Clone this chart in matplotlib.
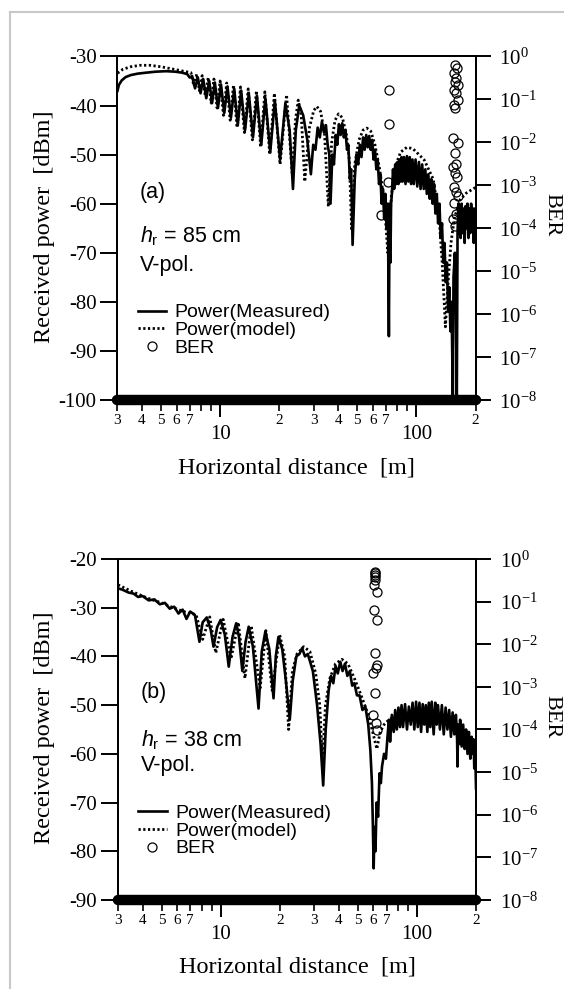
import matplotlib
matplotlib.use("Agg")
import matplotlib.pyplot as plt
from matplotlib.lines import Line2D
from matplotlib.ticker import FixedLocator, FixedFormatter, NullLocator

plt.rcParams['font.family'] = 'Liberation Serif'
plt.rcParams['mathtext.fontset'] = 'custom'
plt.rcParams['mathtext.rm'] = 'Liberation Serif'
plt.rcParams['mathtext.it'] = 'Liberation Sans:italic'
plt.rcParams['mathtext.sf'] = 'Liberation Sans'
plt.rcParams['axes.unicode_minus'] = False

# ---- panel (a): h_r = 85 cm ----
meas_a_dist = [3.0, 3.05, 3.15, 3.3, 3.5, 3.8, 4.2, 4.7, 5.3, 5.9, 6.4, 6.8,
               7.0, 7.2, 7.45, 7.7, 7.95, 8.2, 8.5, 8.8, 9.1, 9.4, 9.75, 10.1,
               10.5, 10.9, 11.35, 11.8, 12.3, 12.8, 13.4, 14.0, 14.7, 15.4, 16.2, 17.0,
               18.0, 19.0, 20.2, 21.5, 22.6, 23.5, 24.3, 25.3, 26.5, 27.8,
               29.0, 29.8, 30.6, 31.4, 32.2, 33.0, 33.8, 34.6, 35.3, 36.0, 36.5,
               37.3, 38.0, 38.8, 39.5, 40.3, 41.1, 41.9, 42.7, 43.5, 44.3, 45.0, 45.8, 46.5, 47.3,
               48.5, 49.5, 50.5, 51.5, 52.5, 53.5, 54.5, 55.5, 56.5, 57.5, 58.5, 59.5,
               60.5, 61.5, 62.5, 63.5, 64.5, 65.5, 66.5, 67.5, 68.5, 69.5, 70.5, 71.5,
               72.4, 73.0, 73.7, 74.3, 75, 76, 77, 78, 79, 80, 81, 82,
               83, 84, 85, 86.5, 88, 89.5, 91, 92.5, 94, 95.5, 97, 99,
               101, 103, 105, 107, 109, 111, 113, 115, 117, 119, 121, 123,
               125, 127, 129, 131, 133, 135, 137, 139, 141, 143, 145, 147,
               149, 151, 153.3, 154.5, 157, 159, 160.6, 162, 163.5, 165, 166.5, 168,
               170, 172, 174, 176, 178, 180, 182, 184, 186, 188, 190, 192,
               194, 196, 198, 200]
meas_a_pow = [-37.0, -35.8, -34.9, -34.2, -33.8, -33.5, -33.3, -33.1, -33.0, -33.1, -33.3, -33.6,
              -34.3, -34.0, -36.5, -34.3, -37.5, -34.6, -38.5, -35.0, -39.5, -35.3, -40.5, -35.7,
              -41.5, -36.1, -42.5, -36.6, -44.0, -37.0, -45.0, -37.5, -46.5, -38.0, -48.0, -38.5,
              -49.5, -39.0, -51.0, -39.5, -45.0, -57.0, -45.0, -40.0, -42.0, -47.0,
              -54.0, -48.0, -49.0, -44.5, -46.5, -43.3, -45.5, -44.0, -48.0, -50.0, -60.0,
              -50.0, -52.0, -46.0, -48.0, -43.8, -46.0, -43.6, -46.5, -45.0, -49.0, -48.0, -55.0, -53.0, -68.4,
              -55.0, -50.0, -52.0, -48.0, -50.5, -46.5, -49.0, -46.0, -48.5, -46.2, -49.0, -47.0,
              -51.0, -49.0, -53.0, -51.0, -56.0, -54.0, -60.0, -57.0, -63.0, -58.0, -65.0, -60.0,
              -87.0, -60.0, -72.0, -60.0, -58.0, -53.0, -57.0, -52.0, -56.0, -51.5, -56.0, -51.0,
              -55.5, -50.5, -55.5, -50.5, -56.0, -50.3, -55.5, -50.5, -56.0, -51.0, -56.0, -51.0,
              -56.5, -51.5, -57.0, -52.0, -57.0, -53.0, -58.0, -54.0, -59.0, -55.0, -60.0, -56.0,
              -62.0, -58.0, -64.0, -60.0, -67.0, -64.0, -72.0, -68.0, -76.0, -72.0, -82.0, -77.0,
              -86.0, -80.0, -100.0, -75.0, -70.0, -82.0, -100.0, -66.0, -60.0, -66.0, -61.0, -67.0,
              -60.0, -66.0, -61.0, -68.0, -60.5, -65.0, -60.0, -67.0, -61.0, -66.0, -60.0, -65.5,
              -61.0, -68.0, -61.0, -64.0]

model_a_dist = [3.0, 3.2, 3.5, 3.9, 4.4, 5.0, 5.8, 6.5, 7.1, 7.35, 7.6, 7.85,
                8.1, 8.4, 8.7, 9.0, 9.3, 9.65, 10.0, 10.4, 10.8, 11.25, 11.7, 12.2,
                12.7, 13.3, 13.9, 14.6, 15.3, 16.1, 16.9, 17.9, 18.9, 20.2, 21.8, 23.3,
                24.2, 25.0, 25.9, 27.0, 28.5, 30.0, 31.1, 32.5, 34.0, 35.6, 37.0, 38.5,
                40.1, 42.0, 44.0, 45.5, 46.8, 48.5, 51.0, 53.5, 55.9, 58.5, 61.5, 65.0,
                68.5, 71.5, 74.5, 78.0, 83.0, 89.5, 96, 103, 109.6, 121.8, 130.6, 135.3,
                140.5, 145, 150, 156, 166.8, 180, 196, 200]
model_a_pow = [-33.4, -32.6, -32.1, -31.8, -31.8, -32.1, -32.6, -33.0, -33.3, -36.0, -33.6, -37.0,
               -33.9, -38.0, -34.3, -39.5, -34.6, -40.5, -35.0, -42.0, -35.4, -43.0, -35.8, -44.5,
               -36.2, -45.5, -36.6, -47.0, -37.0, -48.5, -37.2, -50.0, -37.5, -52.0, -37.8, -54.0,
               -43.0, -38.9, -42.0, -55.5, -44.5, -41.0, -40.2, -41.2, -45.5, -60.6, -47.5, -43.0,
               -41.7, -42.5, -46.0, -51.0, -65.5, -52.0, -47.0, -45.0, -44.6, -45.2, -48.0, -53.0,
               -59.5, -70.0, -58.5, -52.5, -49.5, -48.5, -48.8, -50.0, -51.1, -55.0, -63.0, -72.0,
               -85.1, -76.0, -68.0, -63.0, -59.2, -57.8, -56.9, -56.7]

ber_a_dist = [72.4, 72.4, 71.5, 66.0,
              158, 161, 155, 160, 157, 162, 156, 159, 163, 155, 158, 154, 162,
              157, 160, 153, 158, 161, 155, 159, 162, 156, 160, 154, 157]
ber_a_val = [0.17, 0.027, 1.2e-3, 2.0e-4,
             0.63, 0.53, 0.41, 0.31, 0.26, 0.22, 0.166, 0.139, 0.097, 0.074, 0.062, 0.0125, 9.5e-3,
             5.6e-3, 3.2e-3, 2.7e-3, 1.9e-3, 1.6e-3, 9.3e-4, 7.1e-4, 5.5e-4, 3.8e-4, 2.2e-4, 1.6e-4, 1.1e-4]

# ---- panel (b): h_r = 38 cm ----
meas_b_dist = [3.0, 3.2, 3.4, 3.6, 3.8, 4.0, 4.3, 4.6, 4.9, 5.2, 5.5, 5.8,
               6.1, 6.4, 6.7, 7.0, 7.4, 7.8, 8.1, 8.5, 8.9, 9.2, 9.6, 10.0,
               10.5, 11.0, 11.5, 12.0, 12.4, 12.9, 13.4, 13.9, 14.6, 15.6, 16.2, 16.9,
               17.7, 18.6, 19.1, 19.7, 20.6, 21.5, 22.5, 23.3, 24.3, 25.2, 26.0, 26.9,
               27.8, 29.5, 31.0, 32.3, 33.3, 34.3, 35.5, 36.5, 37.5, 38.5, 39.5, 40.7,
               41.8, 43.0, 44.2, 45.5, 46.8, 48.0, 49.5, 51.0, 52.8, 54.6,
               56.5, 57.9, 59.0, 59.6, 60.2, 60.8, 61.5, 62.3, 63.4, 64.5, 65.5, 66.4,
               68.0, 69.5, 70.8, 72.0, 73.0, 74.5, 76.2, 77.5, 79.0, 80.5, 82.0, 83.5,
               85.0, 87.0, 89.0, 91.0, 93.0, 95.0, 97.0, 99.0, 101, 103, 105, 107,
               109, 111, 113, 115, 117, 119, 121.7, 124, 126, 128, 131, 134,
               137, 140, 143, 146, 149, 152, 155, 158, 160.2, 161.0, 162, 164,
               166, 169, 172, 175, 178, 181, 184, 187, 190, 193, 194.3, 196,
               198, 200]
meas_b_pow = [-26.0, -26.4, -26.9, -27.1, -27.8, -27.6, -28.5, -28.3, -29.3, -29.0, -30.2, -29.8,
              -31.2, -30.4, -32.3, -30.8, -31.5, -37.0, -33.0, -32.0, -34.5, -38.0, -34.0, -32.5,
              -35.5, -42.1, -36.0, -33.2, -36.0, -43.0, -37.0, -33.9, -38.0, -50.7, -39.0, -34.9,
              -38.5, -48.6, -40.0, -36.0, -38.5, -45.0, -53.0, -45.0, -40.0, -39.5, -38.3, -40.0,
              -39.5, -43.0, -50.0, -58.0, -66.5, -55.0, -47.0, -44.0, -45.5, -42.0, -43.5, -41.1,
              -43.0, -41.5, -44.0, -43.0, -46.0, -45.5, -48.0, -48.0, -51.0, -50.3,
              -54.0, -59.2, -66.0, -74.0, -83.5, -75.0, -80.0, -70.0, -72.9, -64.0, -66.0, -62.6,
              -60.0, -61.0, -56.5, -53.0, -57.5, -52.0, -55.5, -51.0, -55.0, -50.5, -54.5, -50.0,
              -54.5, -49.8, -55.0, -50.3, -54.0, -49.5, -55.0, -49.3, -54.5, -49.5, -55.5, -49.8,
              -54.0, -50.0, -55.5, -49.5, -54.5, -49.3, -56.0, -49.5, -54.0, -50.0, -55.0, -50.0,
              -56.0, -50.5, -55.0, -51.0, -56.5, -51.5, -56.0, -52.0, -57.0, -62.6, -54.0, -58.0,
              -53.0, -58.5, -54.0, -59.0, -55.0, -60.0, -55.5, -61.0, -56.5, -60.0, -57.0, -63.0,
              -59.0, -67.1]

model_b_dist = [3.0, 3.5, 4.0, 4.5, 5.0, 5.5, 6.0, 6.5, 7.0, 7.5, 8.1, 8.8,
                9.45, 10.3, 11.3, 12.3, 13.3, 14.3, 15.9, 17.0, 18.3, 20.0, 21.2, 22.2,
                23.2, 24.5, 26.5, 28.5, 30.5, 32.0, 33.0, 34.2, 36.0, 38.5, 41.5, 44.5,
                48.0, 52.0, 56.5, 59.5, 62.5, 65.0, 68.0, 72.0, 80.0, 90.0, 100.0, 115.0,
                130.0, 150.0, 170.0, 185.0, 200.0]
model_b_pow = [-25.3, -26.6, -27.6, -28.4, -29.0, -29.7, -30.3, -30.8, -31.2, -31.4, -36.5, -31.9,
               -39.3, -32.4, -40.5, -33.0, -44.5, -33.7, -46.5, -34.7, -47.0, -35.6, -40.0, -55.0,
               -43.0, -39.5, -38.0, -39.0, -43.5, -50.0, -62.0, -50.0, -44.5, -41.5, -40.6, -41.5,
               -44.5, -48.0, -52.0, -55.5, -59.0, -55.5, -54.0, -53.0, -52.0, -51.5, -51.5, -51.5,
               -52.0, -53.0, -55.0, -56.5, -58.5]

ber_b_dist = [61.4, 61.4, 61.4, 61.4, 61.4, 60.2, 62.8, 60.2, 62.8, 61.5, 62.8, 62.0,
              59.9, 61.5, 59.9, 62.0, 62.8]
ber_b_val = [0.50, 0.46, 0.42, 0.38, 0.33, 0.245, 0.17, 0.063, 0.037, 6.1e-3, 3.2e-3, 2.7e-3,
             2.1e-3, 7.0e-4, 2.2e-4, 1.4e-4, 9.7e-5]

# error-free samples sit on the BER floor over the whole run
zero_ber_span = [3, 200]
ber_floor = 1e-8

major_x = [10, 100]
major_x_labels = ['10', '100']
minor_x = [3, 4, 5, 6, 7, 8, 9, 20, 30, 40, 50, 60, 70, 80, 90, 200]
minor_x_labels = ['3', '4', '5', '6', '7', '', '', '2', '3', '4', '5', '6', '7', '', '', '2']
ber_ticks = [1e-8, 1e-7, 1e-6, 1e-5, 1e-4, 1e-3, 1e-2, 1e-1, 1e0]
ber_tick_labels = ['$10^{-8}$', '$10^{-7}$', '$10^{-6}$', '$10^{-5}$', '$10^{-4}$',
                   '$10^{-3}$', '$10^{-2}$', '$10^{-1}$', '$10^{0}$']

SANS = 'Liberation Sans'
fig = plt.figure(figsize=(5.64, 9.89), dpi=100)

# scanned-page frame
fig.add_artist(Line2D([0.0177, 1.0], [0.9879, 0.9879], transform=fig.transFigure,
                      color='#c8c8c8', lw=1.5))
fig.add_artist(Line2D([0.0177, 0.0177], [0.0, 0.9879], transform=fig.transFigure,
                      color='#c8c8c8', lw=1.5))


def draw_panel(rect, ylim, meas_d, meas_p, model_d, model_p, ber_d, ber_v,
               tag, hr_text, text_y, legend_y):
    ax = fig.add_axes(rect)
    ax.set_xscale('log')
    ax.set_xlim(3, 200)
    ax.set_ylim(*ylim)

    model_line, = ax.plot(model_d, model_p, color='black', lw=2.0, ls=(0, (0.8, 0.9)))
    meas_line, = ax.plot(meas_d, meas_p, color='black', lw=1.9)

    ax.xaxis.set_major_locator(FixedLocator(major_x))
    ax.xaxis.set_major_formatter(FixedFormatter(major_x_labels))
    ax.xaxis.set_minor_locator(FixedLocator(minor_x))
    ax.xaxis.set_minor_formatter(FixedFormatter(minor_x_labels))
    ax.tick_params(axis='x', which='major', direction='out', length=12, width=1.4,
                   pad=6, labelsize=15)
    ax.tick_params(axis='x', which='minor', direction='out', length=8, width=1.2,
                   pad=2, labelsize=11)
    ax.set_yticks(range(ylim[0], ylim[1] + 1, 10))
    ax.tick_params(axis='y', direction='out', length=12, width=1.4, pad=3, labelsize=15)

    ax2 = ax.twinx()
    ax2.set_yscale('log')
    ax2.set_ylim(1e-8, 1)
    ber_pts, = ax2.plot(ber_d, ber_v, ls='none', marker='o', mfc='none', mec='black',
                        ms=6.5, mew=0.9)
    ax2.plot(zero_ber_span, [ber_floor, ber_floor], color='black', lw=7.5,
             solid_capstyle='round', clip_on=False)
    ax2.yaxis.set_major_locator(FixedLocator(ber_ticks))
    ax2.yaxis.set_major_formatter(FixedFormatter(ber_tick_labels))
    ax2.yaxis.set_minor_locator(NullLocator())
    ax2.tick_params(axis='y', direction='out', length=11, width=1.4, pad=6, labelsize=15)

    for a in (ax, ax2):
        for sp in a.spines.values():
            sp.set_linewidth(1.4)

    ax.set_ylabel('Received power  [dBm]', fontsize=17.5, va='center')
    ax.yaxis.set_label_coords(-0.205, 0.504)
    ax.set_xlabel('Horizontal distance  [m]', fontsize=17.5, va='center')
    ax.xaxis.set_label_coords(0.5, -0.197)
    ax2.set_ylabel('BER', fontsize=16, rotation=270, va='center', ha='center')
    ax2.yaxis.set_label_coords(1.212, 0.538)

    ax.text(0.063, text_y[0], tag, transform=ax.transAxes, family=SANS, fontsize=15.5,
            va='center', ha='left')
    ax.text(0.063, text_y[1], hr_text, transform=ax.transAxes, family=SANS, fontsize=15.5,
            va='center', ha='left')
    ax.text(0.063, text_y[2], 'V-pol.', transform=ax.transAxes, family=SANS, fontsize=15.5,
            va='center', ha='left')

    ax2.legend([meas_line, model_line, ber_pts], ['Power(Measured)', 'Power(model)', 'BER'],
               loc='upper left', bbox_to_anchor=(0.057, legend_y), frameon=False,
               prop={'family': SANS, 'size': 14}, handlelength=1.45, handletextpad=0.45,
               labelspacing=0.0, borderpad=0, borderaxespad=0)
    return ax, ax2


draw_panel([0.2083, 0.5956, 0.6348, 0.3473], (-100, -30),
           meas_a_dist, meas_a_pow, model_a_dist, model_a_pow, ber_a_dist, ber_a_val,
           '(a)', r'$h_{\mathsf{r}}$ = 85 cm', (0.603, 0.478, 0.392), 0.280)
draw_panel([0.2092, 0.0900, 0.6348, 0.3448], (-90, -20),
           meas_b_dist, meas_b_pow, model_b_dist, model_b_pow, ber_b_dist, ber_b_val,
           '(b)', r'$h_{\mathsf{r}}$ = 38 cm', (0.607, 0.470, 0.395), 0.280)

fig.savefig('out.png', dpi=100)
